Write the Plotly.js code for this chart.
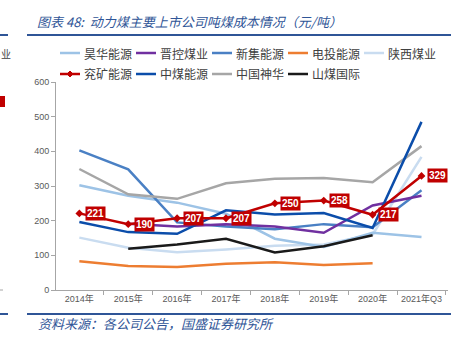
<!DOCTYPE html>
<html><head><meta charset="utf-8">
<script src="https://cdn.plot.ly/plotly-3.0.1.min.js"></script>
<style>html,body{margin:0;padding:0;background:#fff;}#c{width:468px;height:350px;}</style>
</head><body><div id="c"></div>
<script>
const years = ['2014年','2015年','2016年','2017年','2018年','2019年','2020年','2021年Q3'];
const names = ['昊华能源','晋控煤业','新集能源','电投能源','陕西煤业','兖矿能源','中煤能源','中国神华','山煤国际'];
const haohua   = [302, 272, 252, 220, 148, 124, 165, 153];
const jinkong  = [null, 191, 183, 190, 183, 165, 244, 272];
const xinji    = [403, 348, 195, 183, 175, 190, 181, 288];
const diantou  = [83, 69, 66, 76, 80, 72, 77, null];
const shaanxi  = [151, 122, 109, 117, 128, 131, 160, 384];
const yankuang = [221, 190, 207, 207, 250, 258, 217, 329];
const zhongmei = [196, 167, 162, 230, 218, 222, 179, 485];
const shenhua  = [349, 276, 263, 308, 321, 323, 311, 415];
const shanmei  = [null, 119, 131, 148, 108, 126, 158, null];
const titleText = '图表 48:  动力煤主要上市公司吨煤成本情况（元/吨）';
const sourceText = '资料来源：各公司公告，国盛证券研究所';

const series = [haohua, jinkong, xinji, diantou, shaanxi, yankuang, zhongmei, shenhua, shanmei];
const colors = ['#9DC3E6','#7030A0','#4A80C4','#ED7D31','#C9DCF0','#C00000','#0B4DAA','#A6A6A6','#1A1A1A'];
const drawOrder = [4,0,3,2,1,7,8,6,5];

const L = 56, R = 20, T = 82, B = 60, W = 468, H = 350;
const pw = W - L - R, ph = H - T - B;
const px = v => (v - L) / pw;
const py = v => (H - B - v) / ph;

const traces = drawOrder.map(i => ({
  type: 'scatter', mode: i === 5 ? 'lines+markers' : 'lines',
  x: years, y: series[i], name: names[i], showlegend: false,
  line: {color: colors[i], width: 2.5},
  marker: {symbol: 'diamond', size: 6, color: colors[i]},
  connectgaps: false, hoverinfo: 'skip'
}));

const annotations = [];
const shapes = [];
yankuang.forEach((v, k) => {
  annotations.push({x: years[k], y: v, xref: 'x', yref: 'y', text: '<b>' + v + '</b>',
    showarrow: false, xshift: 16, bgcolor: '#C00000', borderpad: 1,
    font: {family: 'Liberation Sans, Arial', size: 10, color: '#ffffff'}});
});

// custom legend
names.forEach((n, i) => {
  const col = i % 5, row = Math.floor(i / 5);
  const x0 = 60 + col * 76, yy = 53 + row * 21;
  shapes.push({type: 'line', xref: 'paper', yref: 'paper', x0: px(x0), x1: px(x0 + 20), y0: py(yy), y1: py(yy),
    line: {color: colors[i], width: 2.5}});
  if (i === 5) {
    const cx = x0 + 10;
    shapes.push({type: 'path', xref: 'paper', yref: 'paper',
      path: `M ${px(cx-3)},${py(yy)} L ${px(cx)},${py(yy-3)} L ${px(cx+3)},${py(yy)} L ${px(cx)},${py(yy+3)} Z`,
      fillcolor: colors[i], line: {color: colors[i], width: 1}});
  }
  annotations.push({xref: 'paper', yref: 'paper', x: px(x0 + 22), y: py(yy), xanchor: 'left', yanchor: 'middle',
    text: n, showarrow: false, font: {family: 'Noto Sans CJK SC', size: 12, color: '#404040'}});
});

// title, source and rules
annotations.push({xref: 'paper', yref: 'paper', x: px(35), y: py(22), xanchor: 'left', yanchor: 'middle',
  text: titleText, showarrow: false, font: {family: 'Noto Sans CJK SC', size: 13, color: '#2F5597', style: 'italic'}});
annotations.push({xref: 'paper', yref: 'paper', x: px(36), y: py(323), xanchor: 'left', yanchor: 'middle',
  text: sourceText, showarrow: false, font: {family: 'Noto Sans CJK SC', size: 13, color: '#2F5597', style: 'italic'}});
annotations.push({xref: 'paper', yref: 'paper', x: px(0), y: py(53), xanchor: 'left', yanchor: 'middle',
  text: '业', showarrow: false, borderpad: 0, font: {family: 'Noto Sans CJK SC', size: 10, color: '#404040'}});
[[27, 451, 35], [27, 451, 314], [0, 8, 35], [0, 8, 314]].forEach(s => {
  shapes.push({type: 'line', xref: 'paper', yref: 'paper', x0: px(s[0]), x1: px(s[1]), y0: py(s[2]), y1: py(s[2]),
    line: {color: '#2F5597', width: 2}});
});
shapes.push({type: 'rect', xref: 'paper', yref: 'paper', x0: px(-2), x1: px(5), y0: py(96), y1: py(107),
  fillcolor: '#C00000', line: {width: 0}});
shapes.push({type: 'line', xref: 'paper', yref: 'paper', x0: px(0), x1: px(3), y0: py(290), y1: py(290),
  line: {color: '#A6A6A6', width: 1}});

const layout = {
  width: W, height: H, margin: {l: L, r: R, t: T, b: B},
  paper_bgcolor: '#fff', plot_bgcolor: '#fff', showlegend: false,
  xaxis: {type: 'category', tickson: 'boundaries', ticks: 'outside', ticklen: 4, tickcolor: '#A6A6A6',
    tickangle: 0, showline: true, linecolor: '#A6A6A6', showgrid: false, zeroline: false,
    tickfont: {family: 'Liberation Sans, Noto Sans CJK SC', size: 9, color: '#595959'}},
  yaxis: {range: [0, 600], dtick: 100, ticks: 'outside', ticklen: 4, tickcolor: '#A6A6A6',
    showline: true, linecolor: '#A6A6A6', showgrid: false, zeroline: false,
    tickfont: {family: 'Liberation Sans, Arial', size: 9, color: '#595959'}},
  annotations: annotations, shapes: shapes
};
Plotly.newPlot('c', traces, layout, {staticPlot: true, displayModeBar: false});
</script></body></html>
